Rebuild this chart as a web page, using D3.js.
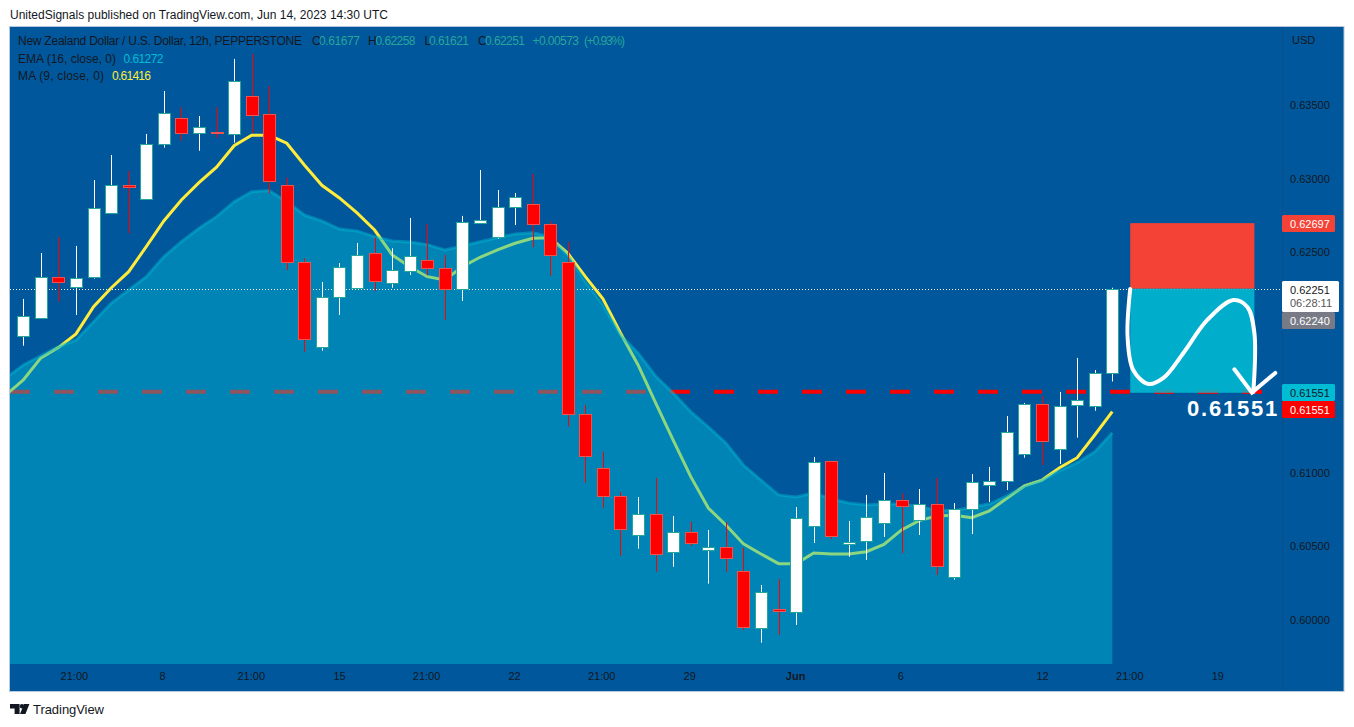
<!DOCTYPE html>
<html><head><meta charset="utf-8">
<script src="https://cdnjs.cloudflare.com/ajax/libs/d3/7.8.5/d3.min.js"></script>
<style>html,body{margin:0;padding:0;background:#fff;overflow:hidden}svg{display:block}text{font-family:"Liberation Sans",Arial,sans-serif}</style>
</head><body><svg id="c" width="1354" height="727"></svg>
<script>
const opens=[.61930,.62052,.62333,.62268,.62329,.62764,.62956,.62859,.63233,.63410,.63308,.63316,.63301,.63559,.63437,.62954,.62431,.61853,.62193,.62261,.62492,.62288,.62377,.62445,.62390,.62250,.62703,.62601,.62805,.62825,.62689,.62431,.61398,.61031,.60841,.60576,.60722,.60467,.60600,.60480,.60498,.60331,.59944,.60073,.60059,.60644,.61079,.60521,.60535,.60657,.60814,.60678,.60786,.60290,.60752,.60915,.60949,.61126,.61466,.61160,.61459,.61452,.61677];
const highs=[.62182,.62494,.62603,.62542,.62990,.63160,.63051,.63303,.63595,.63484,.63425,.63484,.63813,.63847,.63629,.63006,.62458,.62297,.62426,.62562,.62598,.62526,.62732,.62691,.62481,.62746,.63058,.62922,.62902,.63031,.62710,.62570,.61461,.61144,.60870,.60836,.60965,.60707,.60668,.60612,.60664,.60491,.60238,.60277,.60768,.61108,.61081,.60673,.60850,.60999,.60861,.60890,.60965,.60795,.60992,.61040,.61386,.61475,.61522,.61550,.61781,.61699,.62258];
const lows=[.61864,.62050,.62163,.62073,.62320,.62764,.62628,.62859,.63210,.63257,.63189,.63278,.63244,.63310,.62900,.62379,.61823,.61830,.62073,.62261,.62236,.62258,.62345,.62343,.62039,.62168,.62696,.62591,.62684,.62533,.62340,.61314,.60933,.60763,.60437,.60485,.60328,.60362,.60505,.60247,.60328,.59932,.59846,.59898,.59966,.60523,.60550,.60430,.60408,.60564,.60455,.60578,.60306,.60274,.60584,.60802,.60883,.61103,.61053,.61060,.61239,.61422,.61621];
const closes=[.62068,.62333,.62302,.62326,.62798,.62954,.62941,.63233,.63444,.63308,.63352,.63308,.63661,.63430,.62981,.62431,.61908,.62193,.62397,.62483,.62299,.62377,.62476,.62390,.62250,.62703,.62720,.62805,.62873,.62689,.62479,.61398,.61110,.60838,.60616,.60722,.60453,.60600,.60528,.60498,.60426,.59950,.60192,.60059,.60695,.61076,.60567,.60532,.60698,.60814,.60770,.60786,.60365,.60752,.60936,.60943,.61280,.61466,.61214,.61452,.61493,.61677,.62251];
// indicator values start one bar before the first visible candle
const emaValues=[.61645,.61733,.61796,.61857,.61903,.62027,.62152,.62243,.62333,.62469,.62571,.62662,.62741,.62843,.62911,.62918,.62843,.62752,.62712,.62657,.62644,.62605,.62576,.62569,.62551,.62515,.62542,.62571,.62598,.62623,.62632,.62605,.62481,.62299,.62141,.61937,.61815,.61658,.61543,.61416,.61312,.61203,.61053,.60951,.60850,.60836,.60863,.60822,.60795,.60782,.60788,.60788,.60770,.60748,.60743,.60768,.60788,.60843,.60911,.60951,.61015,.61069,.61144,.61272];
const maValues=[.61529,.61631,.61781,.61851,.61944,.62129,.62256,.62367,.62537,.62712,.62854,.62972,.63077,.63223,.63294,.63294,.63240,.63092,.62954,.62868,.62766,.62650,.62481,.62401,.62333,.62311,.62401,.62465,.62515,.62560,.62594,.62598,.62492,.62333,.62182,.61950,.61733,.61475,.61223,.60974,.60761,.60646,.60517,.60449,.60383,.60383,.60455,.60449,.60449,.60464,.60514,.60612,.60675,.60707,.60712,.60695,.60741,.60827,.60911,.60951,.61035,.61103,.61257,.61416];
const priceTicks=[.600,.605,.610,.625,.630,.635];
const timeTickIdx=[2.88,7.9,12.95,17.98,22.93,27.94,32.9,37.91,43.94,49.93,58,62.97,67.98];
const timeTickLabels=["21:00","8","21:00","15","21:00","22","21:00","29","Jun","6","12","21:00","19"];
const stopPrice=.62697, entryPrice=.62251, targetPrice=.61551, bidPrice=.62240;
const boxIdx=[63.02,70.09];
const curveIdx=[63.02,62.87,63.19,64.05,64.91,66.05,67.41,68.89,69.69,70.09,70.03];
const curvePrice=[.62250,.61925,.61699,.61604,.61645,.61815,.62039,.62175,.62127,.61950,.61550];
const arrowIdx=[68.95,69.95,71.28];
const arrowPrice=[.61704,.61545,.61679];

const L=10,R=1282,T=28,B=664,PR=1344,PB=691;
const x=d3.scaleLinear().domain([0,62]).range([23.3,1112.3]);
const y=d3.scaleLinear().domain([.59701,.64023]).range([B,T]);
const svg=d3.select("#c");
const DARK="#131722";
svg.append("rect").attr("x",L-.5).attr("y",T-1.5).attr("width",PR-L+.5).attr("height",PB-T+2).attr("fill","#01579b").attr("stroke","#b6c8da");
svg.append("defs").append("clipPath").attr("id","plot").append("rect").attr("x",L).attr("y",T).attr("width",R-L).attr("height",B-T);
svg.append("line").attr("x1",R+.5).attr("x2",R+.5).attr("y1",T-1).attr("y2",PB).attr("stroke","#0a4f8a");
const g=svg.append("g").attr("clip-path","url(#plot)");

// lines under the area
g.append("line").attr("x1",L).attr("x2",R).attr("y1",y(targetPrice)).attr("y2",y(targetPrice)).attr("stroke","#ff0000").attr("stroke-width",4).attr("stroke-dasharray","20 24");
const ln=d3.line().x((d,i)=>x(i-1)).y(d=>y(d));
g.append("path").attr("d",ln(maValues)).attr("fill","none").attr("stroke","#ffeb3b").attr("stroke-width",3);
const ar=d3.area().x((d,i)=>x(i-1)).y0(B).y1(d=>y(d));
g.append("path").attr("d",ar(emaValues)).attr("fill","#00bcd4").attr("fill-opacity",.45);
g.append("path").attr("d",ln(emaValues)).attr("fill","none").attr("stroke","#00bcd4").attr("stroke-opacity",.45).attr("stroke-width",3);
g.append("line").attr("x1",L).attr("x2",R).attr("y1",Math.round(y(entryPrice))+.5).attr("y2",Math.round(y(entryPrice))+.5).attr("stroke","#fff").attr("stroke-dasharray","1 2");

// candles
const idx=d3.range(opens.length);
const col=i=>closes[i]>=opens[i];
g.selectAll(".w").data(idx).join("line").attr("class","w")
 .attr("x1",i=>Math.round(x(i))+.5).attr("x2",i=>Math.round(x(i))+.5)
 .attr("y1",i=>y(highs[i])).attr("y2",i=>y(lows[i]))
 .attr("stroke",i=>col(i)?"#ffffff":"#ff0000");
g.selectAll(".b").data(idx).join("rect").attr("class","b")
 .attr("x",i=>Math.round(x(i))-5.5).attr("width",12)
 .attr("y",i=>Math.round(y(Math.max(opens[i],closes[i])))+.5)
 .attr("height",i=>Math.max(1,Math.round(Math.abs(y(opens[i])-y(closes[i])))))
 .attr("fill",i=>col(i)?"#ffffff":"#ff0000")
 .attr("stroke",i=>col(i)?"#26a69a":"#ef5350");

// position box
const bx=x(boxIdx[0]),bw=x(boxIdx[1])-bx;
g.append("rect").attr("x",bx).attr("width",bw).attr("y",y(stopPrice)).attr("height",y(entryPrice)-y(stopPrice)).attr("fill","#f44336");
g.append("rect").attr("x",bx).attr("width",bw).attr("y",y(entryPrice)).attr("height",y(targetPrice)-y(entryPrice)+1).attr("fill","#00bcd4").attr("fill-opacity",.85);
const cl=d3.line().x(d=>x(d[0])).y(d=>y(d[1]));
g.append("path").attr("d",cl.curve(d3.curveCatmullRom)(curveIdx.map((d,i)=>[d,curvePrice[i]]))).attr("fill","none").attr("stroke","#fff").attr("stroke-width",4).attr("stroke-linecap","round");
g.append("path").attr("d",d3.line().x(d=>x(d[0])).y(d=>y(d[1]))(arrowIdx.map((d,i)=>[d,arrowPrice[i]]))).attr("fill","none").attr("stroke","#fff").attr("stroke-width",4).attr("stroke-linecap","round").attr("stroke-linejoin","miter");
g.append("text").attr("x",1187).attr("y",y(targetPrice)+24.5).attr("fill","#fff").attr("font-size",22).attr("font-weight","bold").attr("letter-spacing",1.8).text(targetPrice.toFixed(5));

// axes
const ay=svg.append("g").attr("transform",`translate(${R},0)`).call(d3.axisRight(y).tickValues(priceTicks).tickFormat(d3.format(".5f")).tickSize(0).tickPadding(8));
const ax=svg.append("g").attr("transform",`translate(0,${B})`).call(d3.axisBottom(x).tickValues(timeTickIdx).tickFormat((d,i)=>timeTickLabels[i]).tickSize(0).tickPadding(8));
[ay,ax].forEach(a=>{a.select(".domain").remove();a.selectAll("text").attr("fill",DARK).attr("font-size",11).attr("font-family",'"Liberation Sans"');});
ax.selectAll("text").filter(d=>d===43.94).attr("font-weight","bold");
svg.append("text").attr("x",1292).attr("y",44).attr("fill",DARK).attr("font-size",11).text("USD");

// price tags
function tag(p,top,h,w,bg,fg,extra){
 svg.append("rect").attr("x",R).attr("y",top).attr("width",w).attr("height",h).attr("rx",1.5).attr("fill",bg);
 svg.append("text").attr("x",1290).attr("y",top+12.5).attr("fill",fg).attr("font-size",11).text(p.toFixed(5));
 if(extra)svg.append("text").attr("x",1290).attr("y",top+26).attr("fill","#555").attr("font-size",11).text(extra);
}
tag(bidPrice,312,17,53,"#787b86","#fff");
tag(entryPrice,281,31,57,"#fff",DARK,"06:28:11");
tag(stopPrice,215,17,53,"#f44336","#fff");
tag(targetPrice,384,17,53,"#00bcd4",DARK);
tag(targetPrice,401,17,53,"#ff0000","#fff");

// legend
const TEAL="#26a69a";
function t(xp,yp,s,c,len){const e=svg.append("text").attr("x",xp).attr("y",yp).attr("fill",c).attr("font-size",12).text(s);if(len)e.attr("textLength",len);return e;}
t(18,45,"New Zealand Dollar / U.S. Dollar, 12h, PEPPERSTONE",DARK,284);
[[312,"O",DARK],[319,"0.61677",TEAL,41],[368,"H",DARK],[375.5,"0.62258",TEAL,40],[424.5,"L",DARK],[429,"0.61621",TEAL,40],[478,"C",DARK],[485,"0.62251",TEAL,40],[532.5,"+0.00573",TEAL,46.5],[584,"(+0.93%)",TEAL,41]].forEach(a=>t(a[0],45,a[1],a[2],a[3]));
t(18,63,"EMA (16, close, 0)",DARK,98);t(123.5,63,"0.61272","#00bcd4",40);
t(18,80,"MA (9, close, 0)",DARK,86);t(112,80,"0.61416","#ffeb3b",39);
t(10,19,"UnitedSignals published on TradingView.com, Jun 14, 2023 14:30 UTC","#131722",378);
// logo
const logo=svg.append("g").attr("fill","#131722");
logo.append("path").attr("d","M10 704H19.6V714H14.6V708.6H10Z");
logo.append("circle").attr("cx",22).attr("cy",706.2).attr("r",2.2);
logo.append("path").attr("d","M24 704H29.4L25.4 714H20Z");
svg.append("text").attr("x",33).attr("y",714).attr("fill","#131722").attr("font-size",13).attr("textLength",71).text("TradingView");
</script></body></html>
